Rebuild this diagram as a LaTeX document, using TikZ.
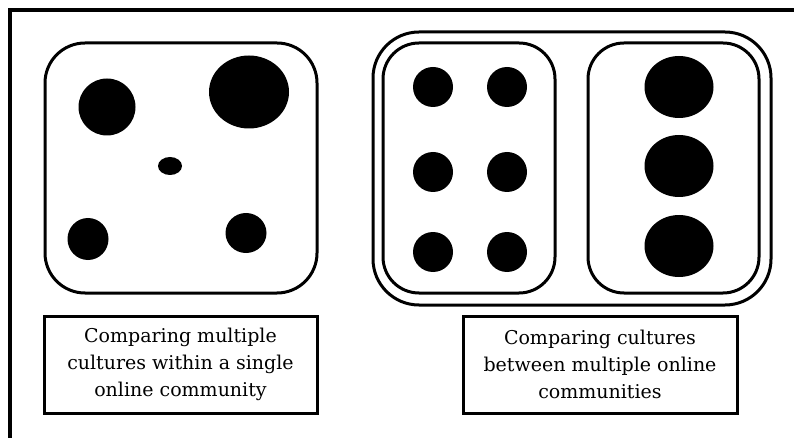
\documentclass[tikz,border=0pt]{standalone}
\usepackage{fontspec}
\setmainfont{DejaVu Serif}
\usetikzlibrary{shapes.geometric}
\begin{document}
\begin{tikzpicture}[x=1pt,y=-1pt,
  frame/.style={draw,line width=3pt,rounded corners=#1,inner sep=0pt},
  frame/.default=40pt,
  dot/.style={ellipse,fill=black,inner sep=0pt},
  caption/.style={draw,line width=3pt,align=center,inner sep=0pt,
    font=\fontsize{19}{27}\selectfont,minimum height=97pt}]
\useasboundingbox (0,0) rectangle (794,438);
% outer frame (only top and left visible)
\coordinate (tl) at (10,10);
\coordinate (tr) at (800,10);
\coordinate (bl) at (10,445);
\draw[line width=3.4pt] (bl) -- (tl) -- (tr);
% left community
\node[frame,minimum width=272pt,minimum height=250pt] (lbox) at (181,168) {};
\node[dot,minimum width=57pt,minimum height=57pt] (a1) at (107,107) {};
\node[dot,minimum width=80pt,minimum height=73pt] (a2) at (249,92) {};
\node[dot,minimum width=24pt,minimum height=18pt] (a3) at (170,166) {};
\node[dot,minimum width=41pt,minimum height=42pt] (a4) at (88,239) {};
\node[dot,minimum width=41pt,minimum height=40pt] (a5) at (246,233) {};
% right communities
\node[frame=46pt,minimum width=398pt,minimum height=273pt] (rbox) at (572,168.5) {};
\node[frame=36pt,minimum width=172pt,minimum height=250pt] (rb1) at (469,168) {};
\node[frame=36pt,minimum width=171pt,minimum height=250pt] (rb2) at (673.5,168) {};
\foreach \c/\x in {1/433,2/507}{
  \foreach \r/\y in {1/87,2/172,3/252}{
    \node[dot,minimum width=40pt,minimum height=40pt] (b\c\r) at (\x,\y) {};
  }
}
\foreach \r/\y in {1/87,2/166,3/246}{
  \node[dot,minimum width=69pt,minimum height=62pt] (c\r) at (679,\y) {};
}
% captions
\node[caption,minimum width=273pt] (cap1) at (180.5,364.5)
  {Comparing multiple\\cultures within a single\\online community};
\node[caption,minimum width=274pt] (cap2) at (600,364.5)
  {Comparing cultures\\between multiple online\\communities};
\end{tikzpicture}
\end{document}
